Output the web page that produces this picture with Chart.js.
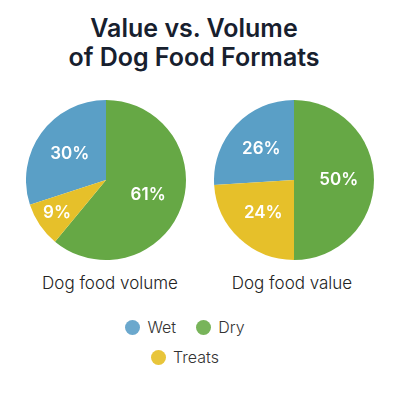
<!DOCTYPE html>
<html>
<head>
<meta charset="utf-8">
<script src="https://cdn.jsdelivr.net/npm/chart.js@4.4.0/dist/chart.umd.min.js"></script>
<style>
  html, body { margin: 0; padding: 0; background: #fff; }
  body { width: 400px; height: 400px; position: relative; overflow: hidden; font-family: Inter, "Noto Sans", sans-serif; }
  #title { position: absolute; top: 14px; left: -6px; width: 400px; text-align: center; color: #17202e;
           font-size: 25px; font-weight: 600; line-height: 29px; letter-spacing: 0px; }
  .pie { position: absolute; top: 100px; width: 160px; height: 160px; }
  .cap { position: absolute; top: 273px; width: 190px; text-align: center; color: #222; font-size: 17px; font-weight: 300; }
  #legend { position: absolute; top: 312px; left: -15px; width: 400px; color: #333; font-size: 16px; font-weight: 300; }
  .row { display: flex; justify-content: center; gap: 20px; height: 30px; align-items: center; }
  .item { display: flex; align-items: center; }
  .dot { width: 15px; height: 15px; border-radius: 50%; margin-right: 7px; }
</style>
</head>
<body>
<div id="title">Value vs. Volume<br>of Dog Food Formats</div>
<div class="pie" style="left:26px"><canvas id="pieVolumen"></canvas></div>
<div class="pie" style="left:214px"><canvas id="pieValor"></canvas></div>
<div class="cap" style="left:15px">Dog food volume</div>
<div class="cap" style="left:197px">Dog food value</div>
<div id="legend"></div>
<script>
const categorias = ['Wet', 'Dry', 'Treats'];
const volumen = [30, 61, 9];
const valor = [26, 50, 24];
const colores = ['#5a9fc6', '#66a845', '#e6c02a'];
const coloresLeyenda = ['#6ba8cd', '#78b45a', '#e8c53a'];
const filasLeyenda = [['Wet', 'Dry'], ['Treats']];

// etiquetas blancas dentro de cada porcion
const etiquetasPorcion = {
    id: 'etiquetasPorcion',
    afterDatasetsDraw(chart) {
        const ctx = chart.ctx;
        const meta = chart.getDatasetMeta(0);
        const datos = chart.data.datasets[0].data;
        ctx.save();
        ctx.fillStyle = '#fff';
        ctx.font = '600 17px Inter, "Noto Sans", sans-serif';
        ctx.textAlign = 'center';
        ctx.textBaseline = 'middle';
        meta.data.forEach(function(arc, i) {
            const p = arc.getProps(['x', 'y', 'startAngle', 'endAngle', 'outerRadius'], true);
            const medio = (p.startAngle + p.endAngle) / 2;
            const factor = datos[i] < 10 ? 0.74 : 0.56;
            const x = p.x + Math.cos(medio) * p.outerRadius * factor;
            const y = p.y + Math.sin(medio) * p.outerRadius * factor;
            ctx.fillText(datos[i] + '%', x, y);
        });
        ctx.restore();
    }
};

function cargarPie(id, datos) {
    const ctx = document.getElementById(id).getContext('2d');
    new Chart(ctx, {
        type: 'pie',
        data: {
            labels: categorias,
            datasets: [{
                data: datos,
                backgroundColor: colores,
                borderWidth: 0
            }]
        },
        options: {
            responsive: true,
            maintainAspectRatio: false,
            animation: false,
            rotation: -datos[0] * 3.6,
            layout: { padding: 0 },
            plugins: {
                legend: { display: false },
                tooltip: { enabled: false }
            }
        },
        plugins: [etiquetasPorcion]
    });
}

cargarPie('pieVolumen', volumen);
cargarPie('pieValor', valor);

const leyenda = document.getElementById('legend');
filasLeyenda.forEach(function(fila) {
    const div = document.createElement('div');
    div.className = 'row';
    fila.forEach(function(nombre) {
        const i = categorias.indexOf(nombre);
        const item = document.createElement('div');
        item.className = 'item';
        item.innerHTML = '<span class="dot" style="background:' + coloresLeyenda[i] + '"></span>' + nombre;
        div.appendChild(item);
    });
    leyenda.appendChild(div);
});
</script>
</body>
</html>
